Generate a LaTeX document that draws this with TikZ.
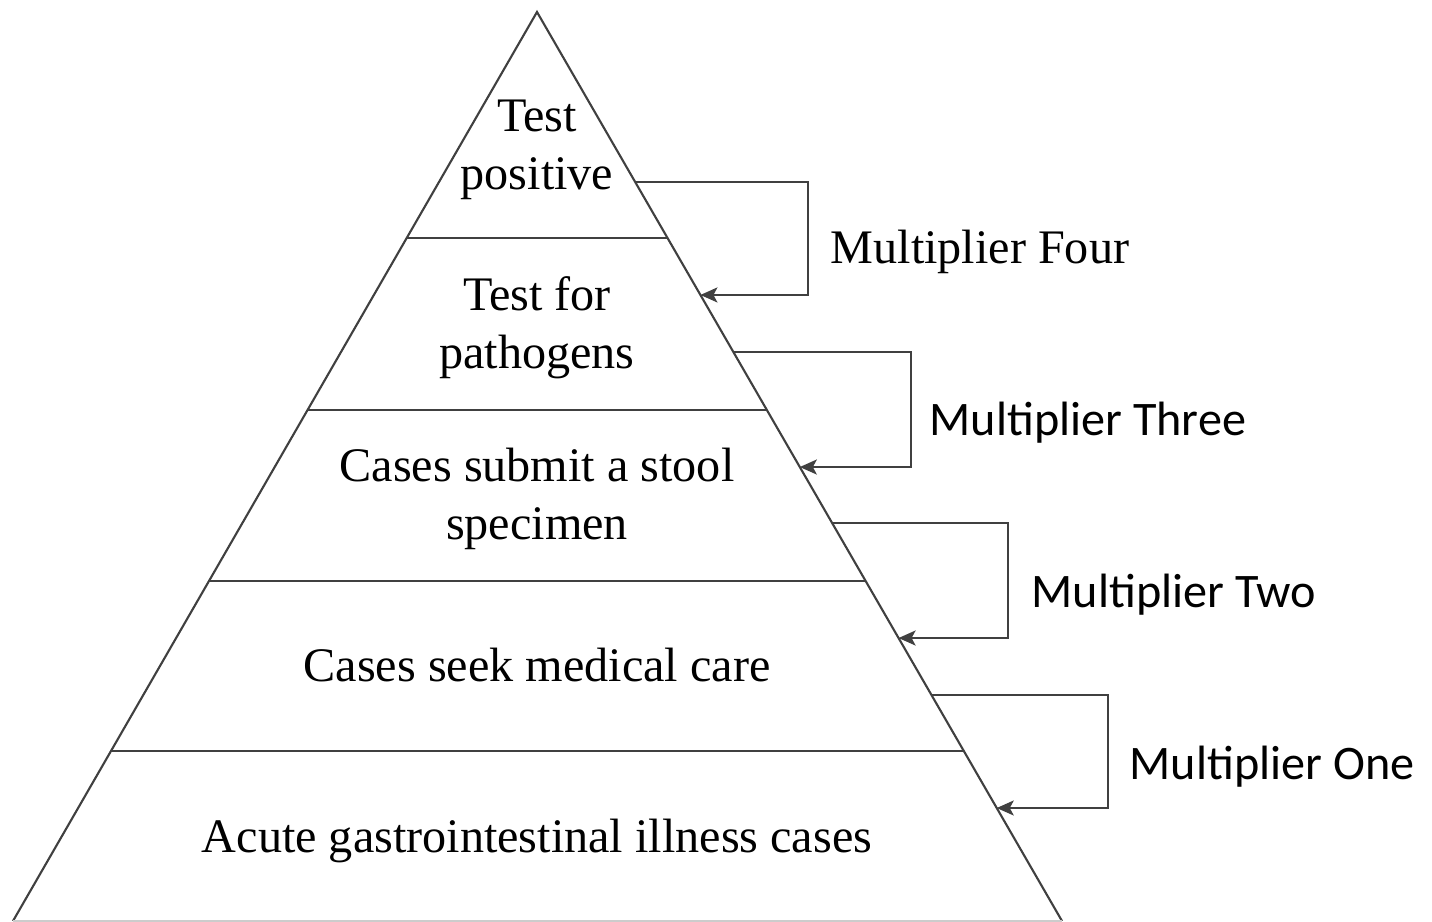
\documentclass[tikz,border=0pt]{standalone}
\usepackage{fontspec}
\setmainfont{Liberation Serif}
\newfontfamily\calibri{Carlito}
\usetikzlibrary{arrows, arrows.meta, positioning, calc}
\tikzstyle{layer} = [align=center, inner sep=0pt, font=\fontsize{13.7}{16.6}\selectfont]
\tikzstyle{mult} = [layer, anchor=base west]
\tikzstyle{multsans} = [mult, font=\fontsize{13.7}{16.6}\selectfont\calibri]
\tikzstyle{edge} = [line width=0.6pt, draw=black!75]
\tikzstyle{arrow} = [edge, ->, >={Stealth[length=1.7mm, width=1.5mm, inset=0.4mm]}]

\begin{document}
\begin{tikzpicture}[x=0.01cm, y=-0.01cm]
\useasboundingbox (0,0) rectangle (1432,922);

\coordinate (top) at (537,12);
\coordinate (bl) at (13,921);
\coordinate (br) at (1062,921);
\draw[edge] (bl) -- (top) -- (br);
\draw[edge, draw=black!20] (bl) -- (br);

% layer boundaries
\foreach \t [count=\i] in {0.2486, 0.4378, 0.626, 0.813} {
  \coordinate (L\i) at ($(top)!\t!(bl)$);
  \coordinate (R\i) at ($(top)!\t!(br)$);
  \draw[edge] (L\i) -- (R\i);
}

\node(T5)[layer] at (537,150) {Test\\positive};
\node(T4)[layer] at (537,328) {Test for\\pathogens};
\node(T3)[layer] at (537,499) {Cases submit a stool\\specimen};
\node(T2)[layer, anchor=base] at (537,682) {Cases seek medical care};
\node(T1)[layer, anchor=base] at (537,853) {Acute gastrointestinal illness cases};

% multiplier brackets
\foreach \n/\a/\b/\x in {4/0.187/0.3113/808, 3/0.374/0.5006/911, 2/0.5622/0.6887/1008, 1/0.7514/0.8757/1108} {
  \coordinate (S\n) at ($(top)!\a!(br)$);
  \coordinate (E\n) at ($(top)!\b!(br)$);
  \coordinate (K\n) at (\x,0);
  \draw[arrow] (S\n) -- (S\n -| K\n) |- (E\n);
}

\node(M4)[mult] at (830,264) {Multiplier Four};
\node(M3)[multsans] at (929,436) {Multiplier Three};
\node(M2)[multsans] at (1031,608) {Multiplier Two};
\node(M1)[multsans] at (1129,780) {Multiplier One};

\end{tikzpicture}
\end{document}
